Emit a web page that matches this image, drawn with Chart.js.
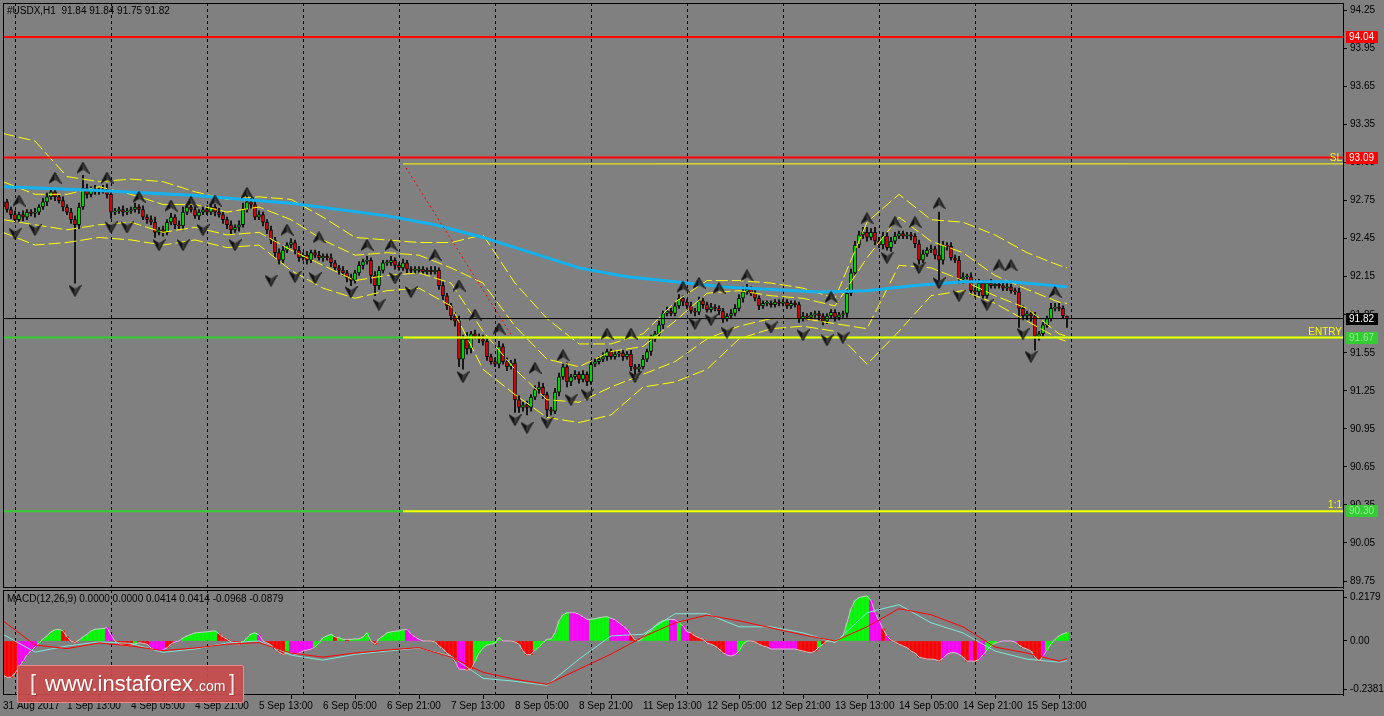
<!DOCTYPE html>
<html>
<head>
<meta charset="utf-8">
<title>#USDX,H1</title>
<script src="https://cdn.jsdelivr.net/npm/chart.js@4.4.1/dist/chart.umd.min.js"></script>
<style>
  html, body { margin: 0; padding: 0; background: #808080; overflow: hidden; }
  #wrap { position: relative; width: 1384px; height: 716px; }
  #priceChart { position: absolute; left: 0; top: 0; }
  #macdChart { position: absolute; left: 0; top: 589px; }
  #logo {
    position: absolute; left: 17px; top: 665px; width: 227px; height: 38px;
    box-sizing: border-box; border: 1px solid rgba(236, 150, 150, 0.85); border-radius: 2px;
    background: rgba(200, 76, 76, 0.93); color: #fff; font-family: "Liberation Sans", sans-serif;
    white-space: nowrap; text-shadow: 1px 1px 0 rgba(110, 40, 40, 0.45);
  }
  #logo span { position: absolute; }
  #logo .br { top: 6px; font-size: 22px; line-height: 22px; color: #f6e6e6; }
  #logo .www { left: 27px; top: 7px; font-size: 22px; line-height: 22px; }
  #logo .com { left: 177px; top: 13px; font-size: 14px; line-height: 14px; }
</style>
</head>
<body>
<div id="wrap">
  <canvas id="priceChart" width="1384" height="589"></canvas>
  <canvas id="macdChart" width="1384" height="127"></canvas>
  <div id="logo"><span class="br" style="left:12px">[</span><span class="www">www.instaforex</span><span class="com">.com</span><span class="br" style="left:211px">]</span></div>
</div>
<script>
// ---- data (H1 bars, bar 0 = 31 Aug 21:00) ----
const symbolTitle = "#USDX,H1  91.84 91.84 91.75 91.82";
const macdTitle = "MACD(12,26,9) 0.0000 0.0000 0.0414 0.0414 -0.0968 -0.0879";

const firstOpen = 92.70;
const closes = [
  92.74, 92.68, 92.64, 92.60, 92.64, 92.62, 92.66, 92.65, 92.66, 92.70, 92.74, 92.78,
  92.82, 92.78, 92.75, 92.70, 92.66, 92.60, 92.56, 92.70, 92.85, 92.80, 92.84, 92.82,
  92.83, 92.84, 92.80, 92.66, 92.67, 92.68, 92.66, 92.67, 92.68, 92.70, 92.68, 92.62,
  92.60, 92.58, 92.50, 92.52, 92.50, 92.58, 92.62, 92.56, 92.55, 92.66, 92.70, 92.68,
  92.63, 92.66, 92.68, 92.66, 92.70, 92.66, 92.64, 92.60, 92.56, 92.52, 92.54, 92.56,
  92.68, 92.74, 92.72, 92.62, 92.64, 92.58, 92.52, 92.44, 92.34, 92.28, 92.36, 92.40,
  92.42, 92.36, 92.30, 92.32, 92.28, 92.34, 92.32, 92.30, 92.31, 92.30, 92.26, 92.22,
  92.20, 92.18, 92.14, 92.12, 92.18, 92.24, 92.27, 92.28, 92.16, 92.08, 92.20, 92.26,
  92.26, 92.28, 92.24, 92.22, 92.26, 92.21, 92.20, 92.20, 92.21, 92.19, 92.20, 92.19,
  92.20, 92.08, 92.00, 91.92, 91.84, 91.80, 91.50, 91.66, 91.58, 91.70, 91.68, 91.66,
  91.64, 91.52, 91.48, 91.46, 91.60, 91.48, 91.44, 91.47, 91.18, 91.12, 91.14, 91.12,
  91.20, 91.26, 91.28, 91.22, 91.10, 91.09, 91.24, 91.36, 91.44, 91.32, 91.36, 91.38,
  91.34, 91.38, 91.32, 91.46, 91.48, 91.50, 91.52, 91.56, 91.52, 91.54, 91.55, 91.52,
  91.54, 91.44, 91.42, 91.44, 91.50, 91.56, 91.66, 91.70, 91.77, 91.86, 91.88, 91.86,
  91.92, 91.98, 91.95, 91.92, 91.88, 91.87, 91.96, 91.93, 91.89, 91.91, 91.90, 91.88,
  91.82, 91.84, 91.86, 91.90, 91.98, 92.03, 92.05, 92.02, 91.98, 91.92, 91.94, 91.94,
  91.93, 91.95, 91.94, 91.95, 91.92, 91.94, 91.93, 91.82, 91.84, 91.83, 91.85, 91.86,
  91.84, 91.80, 91.84, 91.87, 91.83, 91.85, 91.86, 92.02, 92.18, 92.40, 92.48, 92.50,
  92.46, 92.50, 92.43, 92.40, 92.47, 92.38, 92.43, 92.47, 92.49, 92.47, 92.48, 92.47,
  92.41, 92.28, 92.33, 92.36, 92.37, 92.32, 92.28, 92.40, 92.39, 92.30, 92.28, 92.13,
  92.15, 92.15, 92.04, 92.03, 92.10, 92.00, 92.10, 92.08, 92.09, 92.08, 92.06, 92.07,
  92.04, 92.03, 91.90, 91.84, 91.86, 91.84, 91.68, 91.70, 91.77, 91.82, 91.90, 91.91,
  91.90, 91.84, 91.82
];
// upper / lower shadow length of each bar
const wickUp = [
  .03,.02,.02,.03,.02,.03,.02,.02,.03,.02,.03,.03,
  .03,.02,.02,.03,.02,.03,.03,.03,.10,.03,.02,.03,
  .02,.03,.04,.03,.02,.02,.03,.02,.02,.03,.02,.03,
  .02,.03,.04,.02,.03,.02,.03,.02,.03,.04,.02,.02,
  .03,.02,.02,.03,.02,.02,.03,.02,.02,.03,.02,.03,
  .05,.05,.03,.02,.03,.02,.02,.03,.02,.03,.03,.02,
  .03,.02,.03,.02,.03,.02,.02,.03,.02,.02,.03,.02,
  .02,.03,.02,.03,.02,.03,.02,.03,.02,.03,.03,.02,
  .02,.03,.02,.02,.03,.02,.02,.03,.02,.02,.02,.03,
  .03,.02,.03,.02,.02,.03,.04,.03,.05,.02,.03,.02,
  .03,.02,.02,.03,.04,.02,.03,.02,.03,.03,.02,.03,
  .02,.03,.04,.03,.02,.02,.03,.03,.02,.03,.02,.03,
  .02,.03,.02,.03,.02,.02,.03,.02,.02,.03,.02,.02,
  .02,.03,.02,.02,.03,.02,.03,.02,.03,.02,.03,.02,
  .03,.03,.02,.02,.03,.02,.03,.02,.02,.03,.02,.02,
  .02,.02,.03,.03,.03,.04,.04,.02,.02,.02,.02,.02,
  .02,.02,.02,.02,.02,.02,.02,.02,.03,.02,.02,.02,
  .02,.02,.02,.02,.02,.02,.02,.03,.03,.03,.03,.04,
  .04,.03,.04,.03,.03,.03,.03,.03,.02,.02,.02,.02,
  .02,.03,.03,.02,.03,.02,.34,.03,.02,.03,.02,.03,
  .03,.02,.03,.02,.03,.02,.02,.03,.02,.02,.02,.03,
  .02,.02,.03,.02,.02,.02,.03,.02,.02,.02,.04,.03,
  .03,.02,.00
];
const wickDn = [
  .03,.02,.03,.02,.02,.03,.02,.02,.03,.02,.02,.03,
  .02,.03,.02,.03,.02,.03,.46,.03,.02,.03,.02,.02,
  .02,.02,.03,.05,.02,.02,.03,.02,.02,.02,.03,.02,
  .03,.02,.04,.02,.03,.02,.02,.03,.02,.03,.02,.02,
  .02,.03,.02,.02,.02,.03,.02,.03,.03,.03,.02,.03,
  .02,.02,.03,.02,.02,.03,.03,.03,.04,.03,.02,.02,
  .02,.03,.03,.02,.03,.02,.02,.02,.03,.02,.03,.02,
  .03,.02,.03,.04,.02,.02,.03,.02,.06,.08,.03,.02,
  .02,.02,.03,.02,.02,.03,.02,.02,.02,.02,.02,.02,
  .02,.03,.03,.03,.03,.04,.06,.08,.04,.03,.02,.03,
  .03,.03,.02,.02,.03,.02,.03,.02,.10,.04,.03,.06,
  .03,.02,.03,.03,.06,.03,.02,.03,.02,.04,.03,.02,
  .03,.02,.03,.02,.02,.02,.02,.03,.02,.02,.02,.03,
  .02,.03,.04,.02,.02,.02,.03,.02,.02,.03,.02,.02,
  .02,.02,.03,.02,.02,.03,.02,.03,.02,.02,.02,.03,
  .03,.02,.02,.02,.02,.03,.02,.02,.02,.03,.02,.02,
  .02,.02,.02,.02,.02,.02,.02,.03,.02,.02,.02,.02,
  .03,.03,.02,.02,.03,.02,.02,.03,.02,.02,.02,.03,
  .03,.02,.03,.02,.03,.02,.03,.02,.02,.02,.02,.03,
  .03,.03,.02,.02,.02,.03,.21,.03,.03,.02,.02,.03,
  .03,.02,.03,.04,.03,.02,.02,.02,.02,.02,.02,.02,
  .02,.02,.15,.03,.03,.04,.11,.03,.02,.02,.02,.02,
  .02,.02,.07
];

// moving average (blue) sampled bars
const maBars = [0, 24, 48, 72, 96, 108, 120, 132, 144, 156, 168, 180, 192, 204, 216, 228, 240, 252, 266];
const maValues = [92.86, 92.83, 92.79, 92.73, 92.63, 92.56, 92.46, 92.34, 92.22, 92.15, 92.11, 92.07, 92.05, 92.03, 92.04, 92.08, 92.11, 92.11, 92.07];

// envelope bands (yellow) and MACD lines, sampled every 8 bars
const sampleBars = [0, 8, 16, 24, 32, 40, 48, 56, 64, 72, 80, 88, 96, 104, 112, 120, 128, 136, 144, 152, 160,
  168, 176, 184, 192, 200, 208, 216, 224, 232, 240, 248, 256, 264, 266];
const bandOuterUp = [93.28, 93.22, 92.94, 92.90, 92.92, 92.90, 92.82, 92.76, 92.78, 92.76, 92.62, 92.46, 92.44, 92.42,
  92.42, 92.48, 92.10, 91.82, 91.62, 91.62, 91.70, 91.95, 92.12, 92.12, 92.10, 92.06, 91.98, 92.58, 92.80, 92.60,
  92.58, 92.48, 92.34, 92.24, 92.22];
const bandInnerUp = [92.90, 92.80, 92.80, 92.86, 92.80, 92.72, 92.72, 92.66, 92.70, 92.60, 92.44, 92.32, 92.34, 92.32,
  92.22, 92.10, 91.76, 91.50, 91.44, 91.56, 91.60, 91.80, 92.02, 92.04, 92.00, 91.98, 91.92, 92.30, 92.62, 92.43,
  92.34, 92.16, 92.05, 91.95, 91.94];
const bandInnerLo = [92.60, 92.56, 92.52, 92.56, 92.58, 92.50, 92.54, 92.48, 92.50, 92.36, 92.24, 92.12, 92.16, 92.18,
  92.10, 91.72, 91.42, 91.18, 91.16, 91.28, 91.38, 91.48, 91.66, 91.76, 91.82, 91.82, 91.78, 91.74, 92.24, 92.22,
  92.12, 92.00, 91.90, 91.70, 91.68];
const bandOuterLo = [92.50, 92.40, 92.42, 92.46, 92.44, 92.40, 92.44, 92.38, 92.40, 92.20, 92.06, 91.98, 92.04, 92.06,
  91.92, 91.42, 91.22, 91.04, 91.00, 91.06, 91.28, 91.32, 91.42, 91.66, 91.74, 91.76, 91.72, 91.46, 91.72, 92.00,
  92.04, 91.94, 91.80, 91.66, 91.64];

// fractals: [bar, price]
const fractalsUp = [[4, 92.75], [13, 92.93], [20, 93.01], [26, 92.93], [34, 92.78], [42, 92.71], [47, 92.74],
  [53, 92.75], [61, 92.81], [71, 92.52], [79, 92.46], [91, 92.40], [97, 92.40], [108, 92.32], [114, 92.08],
  [118, 91.85], [124, 91.74], [133, 91.43], [140, 91.53], [151, 91.70], [157, 91.70], [170, 92.07], [174, 92.10],
  [179, 92.06], [186, 92.16], [207, 91.99], [216, 92.61], [223, 92.58], [228, 92.58], [234, 92.73], [249, 92.24],
  [252, 92.24], [263, 92.03]];
const fractalsDn = [[3, 92.49], [8, 92.52], [18, 92.04], [27, 92.54], [31, 92.54], [39, 92.40], [45, 92.40],
  [50, 92.52], [58, 92.40], [67, 92.12], [73, 92.15], [78, 92.14], [87, 92.03], [94, 91.93], [98, 92.14],
  [102, 92.03], [115, 91.36], [128, 91.02], [131, 90.96], [136, 91.00], [142, 91.18], [146, 91.22], [158, 91.36],
  [173, 91.78], [177, 91.81], [181, 91.71], [192, 91.75], [200, 91.69], [206, 91.65], [210, 91.67], [221, 92.30],
  [229, 92.22], [234, 92.10], [239, 92.00], [246, 91.93], [255, 91.70], [257, 91.52]];

// trade levels
const levelTP = 94.04;
const levelSL = 93.09;
const levelLast = 91.82;
const levelEntry = 91.67;
const levelTarget = 90.30;
const levelSLGuide = 93.04;
const guideStartBar = 100;
const slantLine = [[100.75, 93.01], [127.5, 91.67]];

// MACD
const macdHist = [
  -0.17, -0.18, -0.18, -0.16, -0.13, -0.10, -0.07, -0.05, -0.03, -0.01, 0.01, 0.025,
  0.045, 0.055, 0.058, 0.05, 0.02, 0.0, -0.008, 0.005, 0.02, 0.033, 0.05, 0.058,
  0.06, 0.062, 0.066, 0.03, 0.0, -0.015, -0.02, -0.025, -0.02, -0.015, -0.008, -0.012,
  -0.016, -0.035, -0.045, -0.05, -0.045, -0.033, -0.015, -0.005, 0.0, 0.015, 0.025, 0.032,
  0.04, 0.042, 0.044, 0.045, 0.048, 0.05, 0.035, 0.02, 0.008, -0.005, -0.01, -0.016,
  -0.005, 0.016, 0.035, 0.04, 0.03, 0.0, -0.01, -0.02, -0.04, -0.055, -0.066, -0.062,
  -0.058, -0.066, -0.06, -0.05, -0.045, -0.04, -0.03, -0.01, 0.016, 0.025, 0.033, 0.02,
  0.016, 0.008, 0.008, 0.008, 0.01, 0.01, 0.02, 0.04, 0.0, -0.016, 0.01, 0.025,
  0.04, 0.045, 0.048, 0.05, 0.055, 0.058, 0.035, 0.02, 0.008, 0.0, 0.0, 0.0,
  -0.005, -0.025, -0.04, -0.06, -0.075, -0.1, -0.14, -0.14, -0.145, -0.14, -0.1, -0.06,
  -0.035, -0.02, -0.016, -0.01, 0.016, 0.0, 0.0, 0.0, -0.005, -0.016, -0.05, -0.07,
  -0.066, -0.045, -0.03, -0.008, 0.008, 0.01, 0.04, 0.1, 0.13, 0.14, 0.14, 0.14,
  0.132, 0.12, 0.107, 0.107, 0.11, 0.115, 0.118, 0.12, 0.112, 0.105, 0.09, 0.075,
  0.058, 0.03, 0.005, 0.0, 0.016, 0.04, 0.05, 0.075, 0.09, 0.1, 0.105, 0.107,
  0.105, 0.09, 0.075, 0.045, 0.04, 0.025, 0.016, 0.008, -0.01, -0.016, -0.025, -0.04,
  -0.058, -0.07, -0.075, -0.068, -0.05, -0.016, 0.0, 0.0, -0.005, -0.016, -0.025, -0.03,
  -0.04, -0.04, -0.04, -0.04, -0.04, -0.04, -0.04, -0.045, -0.05, -0.055, -0.058, -0.05,
  -0.03, -0.016, 0.0, 0.0, 0.0, 0.01, 0.025, 0.09, 0.16, 0.2, 0.215, 0.22,
  0.223, 0.2, 0.14, 0.1, 0.06, 0.025, 0.005, -0.005, -0.016, -0.025, -0.033, -0.05,
  -0.06, -0.08, -0.085, -0.09, -0.09, -0.092, -0.1, -0.085, -0.066, -0.058, -0.058, -0.066,
  -0.08, -0.1, -0.1, -0.1, -0.092, -0.07, -0.045, -0.025, -0.01, -0.005, 0.0, 0.0,
  0.0, -0.005, -0.02, -0.033, -0.04, -0.05, -0.08, -0.1, -0.075, -0.045, -0.015, 0.008,
  0.025, 0.035, 0.0414
];
// histogram colour state per bar: G = green, M = magenta, R = red
const macdStates = [
  "RRRRMMMMMGGG", "GGGRRRRGGGGG", "GGMMRRRRRGRR", "RMMMMRRMMGGG", "GGGGGGRRRRRR", "GGGGMMRRRRRG",
  "MMMMMMGGGGGR", "GGRGGGGGRRGG", "GGGGGMMMMMRR", "RRRRRRMMRRGG", "GGGGGMMRRRRR", "RGGGGGGGGGMM",
  "MMMGGGGGMMMM", "MRRGGGGGGGGM", "MGMMRRRRRRRR", "RMMMGGGRRRRR", "MMMMMMMRRRRR", "GRGGGGGGGGGG",
  "GMMMRMRRRRRR", "RRRRRRRMMMMM", "RRMRMMGGGMMM", "MMRRRRRRMGGG", "GGG"
].join("").split("");
const macdCyan = [0.033, -0.055, -0.025, -0.005, -0.012, -0.056, -0.04, -0.01, 0.0, -0.07, -0.095, -0.066, -0.05,
  -0.035, -0.075, -0.185, -0.2, -0.22, -0.09, 0.025, 0.033, 0.135, 0.135, 0.07, 0.07, 0.04, -0.008, 0.14, 0.18,
  0.09, 0.04, -0.05, -0.09, -0.105, -0.0968];
const macdSignal = [0.10, -0.02, -0.038, -0.01, -0.025, -0.048, -0.035, -0.016, -0.008, -0.06, -0.08, -0.06, -0.045,
  -0.033, -0.08, -0.155, -0.19, -0.215, -0.14, -0.065, 0.02, 0.09, 0.128, 0.1, 0.065, 0.03, 0.0, 0.07, 0.16, 0.13,
  0.07, -0.03, -0.06, -0.1, -0.0879];

// axes
const priceTicks = [89.75, 90.05, 90.35, 90.65, 90.95, 91.25, 91.55, 91.85, 92.15, 92.45, 92.75, 93.05, 93.35, 93.65, 93.95, 94.25];
const macdTicks = [-0.2381, 0, 0.2179];
const macdTickText = ["-0.2381", "0.00", "0.2179"];
const timeBars = [0, 16, 32, 48, 64, 80, 96, 112, 128, 144, 160, 176, 192, 208, 224, 240, 256];
const timeLabels = ["31 Aug 2017", "1 Sep 13:00", "4 Sep 05:00", "4 Sep 21:00", "5 Sep 13:00", "6 Sep 05:00",
  "6 Sep 21:00", "7 Sep 13:00", "8 Sep 05:00", "8 Sep 21:00", "11 Sep 13:00", "12 Sep 05:00", "12 Sep 21:00",
  "13 Sep 13:00", "14 Sep 05:00", "14 Sep 21:00", "15 Sep 13:00"];
const daySepBars = [3, 27, 51, 75, 99, 123, 147, 171, 195, 219, 243, 267];

// ---- drawing ----
const FONT = "Liberation Sans";
const X_MAX = 335;
const BULL = "#00FF00", BEAR = "#FF0000", BAND = "#FFFF00", MA_BLUE = "#12B2F0";
const histColor = { G: "#00FF00", M: "#FF00FF", R: "#FF0000" };

const opens = closes.map((c, i) => (i === 0 ? firstOpen : closes[i - 1]));
const highs = closes.map((c, i) => Math.max(opens[i], c) + wickUp[i]);
const lows = closes.map((c, i) => Math.min(opens[i], c) - wickDn[i]);

const pts = (bars, vals) => bars.map((b, k) => ({ x: b, y: vals[k] }));
const hline = (v, from) => [{ x: from, y: v }, { x: X_MAX, y: v }];

function makeArrow(up) {
  const c = document.createElement("canvas");
  c.width = 13; c.height = 12;
  const g = c.getContext("2d");
  if (!up) { g.translate(0, 12); g.scale(1, -1); }
  g.fillStyle = "#151515";
  g.beginPath(); g.moveTo(6.5, 0); g.lineTo(6.5, 8); g.lineTo(0, 12); g.closePath(); g.fill();
  g.fillStyle = "#3a3a3a";
  g.beginPath(); g.moveTo(6.5, 0); g.lineTo(13, 12); g.lineTo(6.5, 8); g.closePath(); g.fill();
  g.strokeStyle = "#0a0a0a"; g.lineWidth = 1;
  g.beginPath(); g.moveTo(0.5, 11.5); g.lineTo(6.5, 0.5); g.lineTo(12.5, 11.5); g.stroke();
  return c;
}

// dashed day separators + black frame, shared by both panels
const panelFrame = {
  id: "panelFrame",
  beforeDatasetsDraw(chart) {
    const { ctx, chartArea: a, scales: { x } } = chart;
    ctx.save();
    ctx.strokeStyle = "#000"; ctx.lineWidth = 1; ctx.setLineDash([3, 3]);
    daySepBars.forEach(b => {
      const px = Math.round(x.getPixelForValue(b)) + 0.5;
      ctx.beginPath(); ctx.moveTo(px, a.top); ctx.lineTo(px, a.bottom); ctx.stroke();
    });
    ctx.restore();
  },
  afterDraw(chart) {
    const { ctx, chartArea: a } = chart;
    ctx.save();
    ctx.strokeStyle = "#000"; ctx.lineWidth = 1;
    ctx.strokeRect(a.left + 0.5, a.top + 0.5, a.right - a.left, a.bottom - a.top - 1);
    ctx.restore();
  }
};

const priceLabels = {
  id: "priceLabels",
  afterDraw(chart) {
    const { ctx, scales: { y } } = chart;
    ctx.save();
    ctx.font = "10px " + FONT;
    ctx.textBaseline = "middle";
    ctx.fillStyle = "#000";
    ctx.fillText(symbolTitle, 7, 11);
    const boxes = [
      [levelTP, "#FF0000", "#FFFFFF"], [levelSL, "#FF0000", "#FFFFFF"],
      [levelLast, "#000000", "#FFFFFF"], [levelEntry, "#33CC33", "#9BE69B"], [levelTarget, "#33CC33", "#9BE69B"]
    ];
    boxes.forEach(([v, bg, fg]) => {
      const py = Math.round(y.getPixelForValue(v));
      ctx.fillStyle = bg; ctx.fillRect(1346, py - 6, 32, 12);
      ctx.fillStyle = fg; ctx.fillText(v.toFixed(2), 1349, py + 0.5);
    });
    ctx.fillStyle = "#FFFF00";
    ctx.textAlign = "right";
    ctx.fillText("SL", 1342, Math.round(y.getPixelForValue(levelSL)) + 0.5);
    ctx.fillText("ENTRY", 1342, Math.round(y.getPixelForValue(levelEntry)) - 6);
    ctx.fillText("1:1", 1342, Math.round(y.getPixelForValue(levelTarget)) - 6);
    ctx.restore();
  }
};

const macdLabel = {
  id: "macdLabel",
  afterDraw(chart) {
    const { ctx } = chart;
    ctx.save();
    ctx.font = "10px " + FONT; ctx.textBaseline = "middle"; ctx.fillStyle = "#000";
    ctx.fillText(macdTitle, 7, 10);
    ctx.restore();
  }
};

const lineDs = (data, color, width, order, extra) => Object.assign({
  type: "line", data, borderColor: color, borderWidth: width, pointRadius: 0, fill: false, tension: 0, order
}, extra || {});

const noPad = s => { s.paddingLeft = 0; s.paddingRight = 0; s.paddingTop = 0; s.paddingBottom = 0; };

new Chart(document.getElementById("priceChart"), {
  type: "line",
  data: {
    datasets: [
      { type: "bar", data: closes.map((c, i) => ({ x: i, y: [lows[i], highs[i]] })), backgroundColor: "#000",
        barThickness: 1, grouped: false, order: 20 },
      { type: "bar", data: closes.map((c, i) => ({ x: i, y: [opens[i], c] })),
        backgroundColor: closes.map((c, i) => (c >= opens[i] ? BULL : BEAR)),
        borderColor: "#000", borderWidth: 1, borderSkipped: false, minBarLength: 1,
        barThickness: 3, grouped: false, order: 19 },
      lineDs(pts(sampleBars, bandOuterUp), BAND, 1, 10, { borderDash: [12, 4] }),
      lineDs(pts(sampleBars, bandInnerUp), BAND, 1, 10, { borderDash: [12, 4] }),
      lineDs(pts(sampleBars, bandInnerLo), BAND, 1, 10, { borderDash: [12, 4] }),
      lineDs(pts(sampleBars, bandOuterLo), BAND, 1, 10, { borderDash: [12, 4] }),
      lineDs(pts(maBars, maValues), MA_BLUE, 3, 9),
      lineDs(hline(levelTP, 0), "#FF0000", 2, 8),
      lineDs(hline(levelSL, 0), "#FF0000", 2, 8),
      lineDs(hline(levelSLGuide, guideStartBar), "#FFFF00", 1, 8),
      lineDs(hline(levelLast, 0), "#000000", 1, 8),
      lineDs(hline(levelEntry, 0), "#33CC33", 2, 8),
      lineDs(hline(levelEntry, guideStartBar), "#FFFF00", 2, 7),
      lineDs(hline(levelTarget, 0), "#33CC33", 2, 8),
      lineDs(hline(levelTarget, guideStartBar), "#FFFF00", 2, 7),
      lineDs(slantLine.map(([b, v]) => ({ x: b, y: v })), "#FF0000", 1, 7, { borderDash: [2, 3] }),
      lineDs(fractalsUp.map(([b, v]) => ({ x: b, y: v })), "#000", 0, 1,
        { showLine: false, pointRadius: 6, pointStyle: makeArrow(true) }),
      lineDs(fractalsDn.map(([b, v]) => ({ x: b, y: v })), "#000", 0, 1,
        { showLine: false, pointRadius: 6, pointStyle: makeArrow(false) })
    ]
  },
  options: {
    responsive: false, animation: false, devicePixelRatio: 1, events: [],
    layout: { autoPadding: false, padding: { left: 3, top: 3, right: 0, bottom: 1 } },
    plugins: { legend: { display: false }, tooltip: { enabled: false } },
    scales: {
      x: { type: "linear", display: false, min: 0, max: X_MAX, offset: false },
      y: {
        type: "linear", position: "right", min: 89.695, max: 94.309,
        afterFit: s => { s.width = 41; noPad(s); },
        afterBuildTicks: s => { s.ticks = priceTicks.map(v => ({ value: v })); },
        ticks: { color: "#000", font: { family: FONT, size: 10 }, padding: 3, callback: v => v.toFixed(2) },
        grid: { drawOnChartArea: false, drawTicks: true, tickLength: 4, color: "#000" },
        border: { display: true, color: "#000" }
      }
    }
  },
  plugins: [panelFrame, priceLabels]
});

new Chart(document.getElementById("macdChart"), {
  type: "line",
  data: {
    datasets: [
      { type: "bar", data: macdHist.map((v, i) => ({ x: i, y: v })),
        backgroundColor: macdStates.map(s => histColor[s]), barThickness: 3, grouped: false, order: 10 },
      lineDs(macdHist.map((v, i) => ({ x: i, y: v })), "#C8C8C8", 1, 5),
      lineDs(pts(sampleBars, macdCyan), "#7FE6D6", 1, 4),
      lineDs(pts(sampleBars, macdSignal), "#FF0000", 1, 3)
    ]
  },
  options: {
    responsive: false, animation: false, devicePixelRatio: 1, events: [],
    layout: { autoPadding: false, padding: { left: 3, top: 1, right: 0, bottom: 0 } },
    plugins: { legend: { display: false }, tooltip: { enabled: false } },
    scales: {
      x: {
        type: "linear", min: 0, max: X_MAX, offset: false, position: "bottom",
        afterFit: s => { s.height = 21; noPad(s); },
        afterBuildTicks: s => { s.ticks = timeBars.map(v => ({ value: v })); },
        ticks: { color: "#000", font: { family: FONT, size: 10 }, autoSkip: false, maxRotation: 0,
          align: "start", padding: 1, callback: (v, i) => timeLabels[i] },
        grid: { drawOnChartArea: false, drawTicks: true, tickLength: 4, color: "#000" },
        border: { display: false }
      },
      y: {
        type: "linear", position: "right", min: -0.2678, max: 0.2526,
        afterFit: s => { s.width = 41; noPad(s); },
        afterBuildTicks: s => { s.ticks = macdTicks.map(v => ({ value: v })); },
        ticks: { color: "#000", font: { family: FONT, size: 10 }, padding: 3, callback: (v, i) => macdTickText[i] },
        grid: { drawOnChartArea: false, drawTicks: true, tickLength: 4, color: "#000" },
        border: { display: true, color: "#000" }
      }
    }
  },
  plugins: [panelFrame, macdLabel]
});
</script>
</body>
</html>
